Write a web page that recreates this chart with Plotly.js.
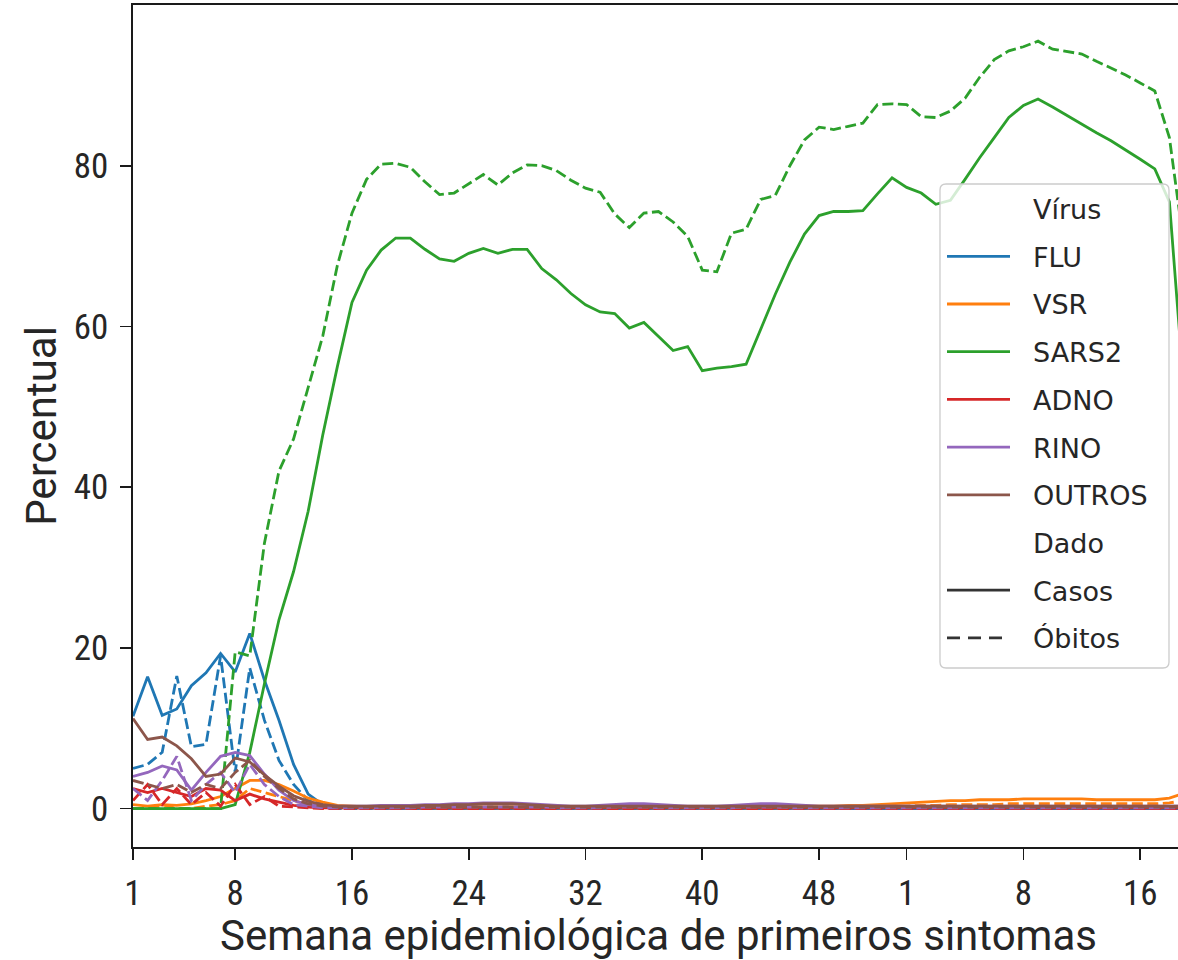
<!DOCTYPE html>
<html>
<head>
<meta charset="utf-8">
<script src="https://cdn.plot.ly/plotly-3.0.1.min.js"></script>
<style>
html,body{margin:0;padding:0;overflow:hidden;background:#ffffff;width:1178px;height:960px;}
#chart{width:1200px;height:960px;}
</style>
</head>
<body>
<div id="chart"></div>
<script>
// ---- data (week index since first epi week of 2020) ----
const weekIndex = [0,1,2,3,4,5,6,7,8,9,10,11,12,13,14,15,16,17,18,19,20,21,22,23,24,25,26,27,28,29,30,31,32,33,34,35,36,37,38,39,40,41,42,43,44,45,46,47,48,49,50,51,52,53,54,55,56,57,58,59,60,61,62,63,64,65,66,67,68,69,70,71,72];

const FLU_casos = [11.5,16.4,11.6,12.4,15.3,16.9,19.3,17.0,21.8,16.0,
  11.0,5.5,1.8,0.5,0.2,0.1,0.1,0.0,0.0,0.0,
  0.0,0.0,0.0,0.0,0.0,0.0,0.0,0.0,0.0,0.0,
  0.0,0.0,0.0,0.0,0.0,0.0,0.0,0.0,0.0,0.0,
  0.0,0.0,0.0,0.0,0.0,0.0,0.0,0.0,0.0,0.0,
  0.0,0.0,0.0,0.0,0.0,0.0,0.0,0.0,0.0,0.0,
  0.0,0.0,0.0,0.0,0.0,0.0,0.0,0.0,0.0,0.0,
  0.0,0.0,0.0];
const FLU_obitos = [5.0,5.5,7.0,16.5,7.7,8.0,19.0,4.5,17.5,11.0,
  6.0,3.0,1.0,0.3,0.0,0.0,0.0,0.0,0.0,0.0,
  0.0,0.0,0.0,0.0,0.0,0.0,0.0,0.0,0.0,0.0,
  0.0,0.0,0.0,0.0,0.0,0.0,0.0,0.0,0.0,0.0,
  0.0,0.0,0.0,0.0,0.0,0.0,0.0,0.0,0.0,0.0,
  0.0,0.0,0.0,0.0,0.0,0.0,0.0,0.0,0.0,0.0,
  0.0,0.0,0.0,0.0,0.0,0.0,0.0,0.0,0.0,0.0,
  0.0,0.0,0.0];
const VSR_casos = [0.5,0.3,0.5,0.4,0.6,1.0,1.5,2.5,3.5,3.5,
  3.0,2.2,1.3,0.8,0.4,0.3,0.2,0.2,0.2,0.2,
  0.2,0.2,0.2,0.2,0.2,0.2,0.2,0.2,0.2,0.2,
  0.2,0.2,0.2,0.2,0.2,0.2,0.2,0.2,0.2,0.2,
  0.2,0.2,0.2,0.2,0.2,0.3,0.3,0.3,0.3,0.4,
  0.4,0.5,0.6,0.7,0.8,0.9,1.0,1.0,1.1,1.1,
  1.1,1.2,1.2,1.2,1.2,1.2,1.1,1.1,1.1,1.1,
  1.1,1.3,1.9];
const VSR_obitos = [0.0,0.0,0.5,0.0,0.0,0.3,0.5,1.0,2.5,2.0,
  1.5,1.0,0.5,0.3,0.1,0.1,0.1,0.1,0.1,0.1,
  0.1,0.1,0.1,0.1,0.1,0.1,0.1,0.1,0.1,0.1,
  0.1,0.1,0.1,0.1,0.1,0.1,0.1,0.1,0.1,0.1,
  0.1,0.1,0.1,0.1,0.1,0.1,0.1,0.1,0.1,0.1,
  0.2,0.2,0.3,0.3,0.4,0.4,0.5,0.5,0.5,0.5,
  0.6,0.6,0.6,0.6,0.6,0.6,0.6,0.6,0.6,0.6,
  0.6,0.7,1.0];
const SARS2_casos = [0.0,0.0,0.0,0.0,0.0,0.0,0.0,0.5,7.0,15.5,
  23.5,29.5,37.0,46.5,55.0,63.0,67.0,69.5,71.0,71.0,
  69.6,68.4,68.1,69.1,69.7,69.1,69.6,69.6,67.2,65.8,
  64.1,62.7,61.8,61.6,59.8,60.5,58.7,57.0,57.5,54.5,
  54.8,55.0,55.3,59.6,64.0,68.0,71.5,73.8,74.3,74.3,
  74.4,76.5,78.5,77.3,76.6,75.2,75.7,78.3,81.0,83.5,
  86.0,87.5,88.3,87.3,86.2,85.2,84.1,83.1,82.0,80.8,
  79.6,75.5,52.0];
const SARS2_obitos = [0.0,0.0,0.0,0.0,0.0,0.0,0.0,19.5,19.0,33.0,
  42.0,46.0,52.3,58.8,67.6,74.1,78.3,80.2,80.3,79.8,
  78.0,76.4,76.6,77.7,78.9,77.6,79.1,80.1,80.0,79.4,
  78.2,77.2,76.7,74.0,72.3,74.1,74.3,73.0,71.2,67.0,
  66.8,71.6,72.1,75.8,76.3,80.0,83.2,84.8,84.5,84.9,
  85.3,87.6,87.7,87.6,86.1,86.0,86.8,88.4,91.0,93.2,
  94.3,94.8,95.5,94.5,94.2,93.9,93.0,92.2,91.3,90.3,
  89.3,83.5,70.0];
const ADNO_casos = [2.5,2.0,2.5,2.0,1.5,2.5,2.3,1.0,1.8,1.2,
  0.8,0.4,0.2,0.1,0.1,0.1,0.1,0.1,0.1,0.1,
  0.1,0.1,0.1,0.1,0.1,0.1,0.1,0.1,0.1,0.1,
  0.1,0.1,0.1,0.1,0.1,0.1,0.1,0.1,0.1,0.1,
  0.1,0.1,0.1,0.1,0.1,0.1,0.1,0.1,0.1,0.1,
  0.1,0.1,0.1,0.1,0.1,0.1,0.1,0.1,0.1,0.1,
  0.1,0.1,0.1,0.1,0.1,0.1,0.1,0.1,0.1,0.1,
  0.1,0.1,0.1];
const ADNO_obitos = [1.0,3.0,0.5,2.5,0.5,2.0,0.3,3.0,0.5,1.5,
  0.3,0.2,0.1,0.0,0.0,0.0,0.0,0.0,0.0,0.0,
  0.0,0.0,0.0,0.0,0.0,0.0,0.0,0.0,0.0,0.0,
  0.0,0.0,0.0,0.0,0.0,0.0,0.0,0.0,0.0,0.0,
  0.0,0.0,0.0,0.0,0.0,0.0,0.0,0.0,0.0,0.0,
  0.0,0.0,0.0,0.0,0.0,0.0,0.0,0.0,0.0,0.0,
  0.0,0.0,0.0,0.0,0.0,0.0,0.0,0.0,0.0,0.0,
  0.0,0.0,0.0];
const RINO_casos = [4.0,4.5,5.3,4.8,2.3,4.5,6.5,7.0,6.6,4.3,
  2.3,1.0,0.5,0.3,0.3,0.3,0.3,0.4,0.4,0.4,
  0.5,0.5,0.6,0.6,0.7,0.7,0.7,0.6,0.5,0.4,
  0.3,0.3,0.4,0.5,0.6,0.6,0.5,0.4,0.3,0.3,
  0.3,0.4,0.5,0.6,0.6,0.5,0.4,0.3,0.3,0.3,
  0.3,0.3,0.3,0.3,0.3,0.3,0.3,0.3,0.3,0.3,
  0.3,0.3,0.3,0.3,0.3,0.3,0.3,0.3,0.3,0.3,
  0.3,0.3,0.3];
const RINO_obitos = [2.5,1.0,3.5,6.5,1.0,3.0,4.5,2.0,5.5,3.0,
  1.5,0.5,0.3,0.1,0.1,0.1,0.1,0.1,0.1,0.1,
  0.2,0.2,0.2,0.2,0.2,0.2,0.2,0.2,0.2,0.1,
  0.1,0.1,0.1,0.2,0.2,0.2,0.1,0.1,0.1,0.1,
  0.1,0.1,0.2,0.2,0.2,0.1,0.1,0.1,0.1,0.1,
  0.1,0.1,0.1,0.1,0.1,0.1,0.1,0.1,0.1,0.1,
  0.1,0.1,0.1,0.1,0.1,0.1,0.1,0.1,0.1,0.1,
  0.1,0.1,0.1];
const OUTROS_casos = [11.2,8.6,8.9,7.8,6.2,4.0,4.3,6.3,5.8,4.2,
  2.8,1.6,0.9,0.5,0.3,0.3,0.3,0.3,0.3,0.3,
  0.4,0.4,0.5,0.5,0.6,0.6,0.6,0.5,0.4,0.3,
  0.3,0.3,0.3,0.3,0.3,0.3,0.3,0.3,0.3,0.3,
  0.3,0.3,0.3,0.3,0.3,0.3,0.3,0.3,0.3,0.3,
  0.3,0.3,0.3,0.3,0.3,0.3,0.3,0.3,0.3,0.3,
  0.3,0.3,0.3,0.3,0.3,0.3,0.3,0.3,0.3,0.3,
  0.3,0.3,0.3];
const OUTROS_obitos = [3.5,3.0,2.5,3.0,2.0,3.0,2.5,4.5,6.0,4.0,
  2.5,1.2,0.6,0.3,0.2,0.2,0.2,0.2,0.2,0.2,
  0.2,0.2,0.2,0.2,0.2,0.2,0.2,0.2,0.2,0.2,
  0.2,0.2,0.2,0.2,0.2,0.2,0.2,0.2,0.2,0.2,
  0.2,0.2,0.2,0.2,0.2,0.2,0.2,0.2,0.2,0.2,
  0.2,0.2,0.2,0.2,0.2,0.2,0.2,0.2,0.2,0.2,
  0.2,0.2,0.2,0.2,0.2,0.2,0.2,0.2,0.2,0.2,
  0.2,0.2,0.2];

const viruses = ["FLU","VSR","SARS2","ADNO","RINO","OUTROS"];
const virusColors = ["#1f77b4","#ff7f0e","#2ca02c","#d62728","#9467bd","#8c564b"];
const casosSeries = [FLU_casos, VSR_casos, SARS2_casos, ADNO_casos, RINO_casos, OUTROS_casos];
const obitosSeries = [FLU_obitos, VSR_obitos, SARS2_obitos, ADNO_obitos, RINO_obitos, OUTROS_obitos];
const dadoLabels = ["Casos","Óbitos"];
const legendHeadings = ["Vírus","Dado"];

const xTickPositions = [0,7,15,23,31,39,47,53,61,69];
const xTickLabels = ["1","8","16","24","32","40","48","1","8","16"];
const yTickValues = [0,20,40,60,80];

// ---- geometry ----
const W = 1200, H = 960, ML = 133, MR = 16, MT = 5, MB = 113;
const PW = W - ML - MR, PH = H - MT - MB;
const px2x = p => (p - ML) / PW;
const py2y = p => (H - MB - p) / PH;

const LW = 2.8;
const DASH = "11px,4.5px";

const traces = [];
viruses.forEach((v, i) => {
  traces.push({
    x: weekIndex, y: casosSeries[i], type: "scatter", mode: "lines",
    name: v + " " + dadoLabels[0], showlegend: false, hoverinfo: "skip",
    line: {color: virusColors[i], width: LW, dash: "solid"}
  });
  traces.push({
    x: weekIndex, y: obitosSeries[i], type: "scatter", mode: "lines",
    name: v + " " + dadoLabels[1], showlegend: false, hoverinfo: "skip",
    line: {color: virusColors[i], width: LW, dash: DASH}
  });
});

// ---- legend (matplotlib style, drawn with shapes + annotations) ----
const shapes = [];
const annotations = [];
const boxL = 940, boxR = 1169, boxT = 184, boxB = 668, rad = 6;
const rx = rad / PW, ry = rad / PH;
const L = px2x(boxL), R = px2x(boxR), T = py2y(boxT), B = py2y(boxB);
shapes.push({
  type: "path", xref: "paper", yref: "paper", layer: "above",
  path: `M ${L + rx},${T} L ${R - rx},${T} Q ${R},${T} ${R},${T - ry} L ${R},${B + ry} Q ${R},${B} ${R - rx},${B} L ${L + rx},${B} Q ${L},${B} ${L},${B + ry} L ${L},${T - ry} Q ${L},${T} ${L + rx},${T} Z`,
  fillcolor: "rgba(255,255,255,0.8)",
  line: {color: "#cccccc", width: 1.3}
});

const entries = [];
entries.push({label: legendHeadings[0], color: null, dash: null});
viruses.forEach((v, i) => entries.push({label: v, color: virusColors[i], dash: "solid"}));
entries.push({label: legendHeadings[1], color: null, dash: null});
entries.push({label: dadoLabels[0], color: "#333333", dash: "solid"});
entries.push({label: dadoLabels[1], color: "#333333", dash: "13px,8px"});

const firstY = 208.6, stepY = 47.7;
entries.forEach((e, k) => {
  const cy = firstY + k * stepY;
  if (e.color) {
    shapes.push({
      type: "line", xref: "paper", yref: "paper", layer: "above",
      x0: px2x(947), x1: px2x(1010), y0: py2y(cy), y1: py2y(cy),
      line: {color: e.color, width: LW, dash: e.dash}
    });
  }
  annotations.push({
    xref: "paper", yref: "paper", x: px2x(1031), y: py2y(cy + 1),
    xanchor: "left", yanchor: "middle", showarrow: false,
    text: e.label,
    font: {family: "DejaVu Sans, sans-serif", size: 27, color: "#262626"}
  });
});

const tickFont = {family: "Liberation Sans Narrow, Roboto Condensed, DejaVu Sans Condensed, Roboto, sans-serif", size: 35, color: "#262626"};
const titleFont = {family: "Roboto, sans-serif", size: 42, color: "#262626"};

const layout = {
  width: W, height: H,
  margin: {l: ML, r: MR, t: MT, b: MB, pad: 0},
  paper_bgcolor: "#ffffff", plot_bgcolor: "#ffffff",
  showlegend: false,
  xaxis: {
    range: [0, 72], tickmode: "array", tickvals: xTickPositions, ticktext: xTickLabels,
    showgrid: false, zeroline: false, showline: true, mirror: true,
    linecolor: "#1a1a1a", linewidth: 1.6,
    ticks: "outside", ticklen: 11, tickwidth: 1.6, tickcolor: "#1a1a1a",
    ticklabelstandoff: 3,
    tickfont: tickFont,
    title: {text: "Semana epidemiológica de primeiros sintomas", font: titleFont, standoff: 10}
  },
  yaxis: {
    range: [-4.78, 100.0], tickmode: "array", tickvals: yTickValues,
    showgrid: false, zeroline: false, showline: true, mirror: true,
    linecolor: "#1a1a1a", linewidth: 1.6,
    ticks: "outside", ticklen: 11, tickwidth: 1.6, tickcolor: "#1a1a1a",
    ticklabelstandoff: 5,
    tickfont: tickFont,
    title: {text: "Percentual", font: titleFont, standoff: 4}
  },
  shapes: shapes,
  annotations: annotations
};

Plotly.newPlot("chart", traces, layout, {displayModeBar: false, staticPlot: true});
</script>
</body>
</html>
